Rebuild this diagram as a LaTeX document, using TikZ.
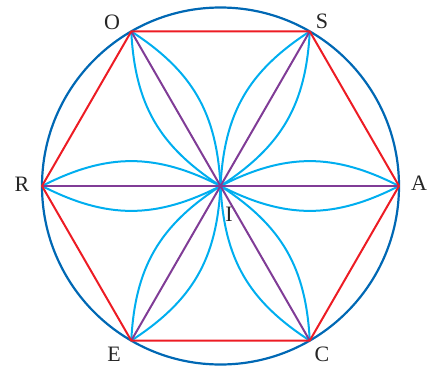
\documentclass[tikz,border=0pt]{standalone}
\usepackage{fontspec}
\setmainfont{Liberation Serif}
\definecolor{circblue}{RGB}{0,104,180}
\definecolor{hexred}{RGB}{237,28,36}
\definecolor{diapurple}{RGB}{128,60,150}
\definecolor{petalcyan}{RGB}{0,174,239}
\newcommand{\lblsize}{\fontsize{22pt}{22pt}\selectfont}
\tikzset{
  circ/.style={draw=circblue, line width=2.2pt},
  hex/.style={draw=hexred, line width=2pt, line join=round},
  dia/.style={draw=diapurple, line width=2pt},
  petal/.style={draw=petalcyan, line width=2pt},
  lbl/.style={font=\lblsize, text=black!85, inner sep=0pt}
}
\begin{document}
\begin{tikzpicture}[x=1pt,y=-1pt]
\useasboundingbox (0,0) rectangle (433,367);
\coordinate (I) at (220.5,186);
\coordinate (A) at (399,186);
\coordinate (S) at (309.75,31.4);
\coordinate (O) at (131.25,31.4);
\coordinate (R) at (42,186);
\coordinate (E) at (131.25,340.6);
\coordinate (C) at (309.75,340.6);
\draw[circ] (I) circle[radius=178.5];
\foreach \v in {A,S,O,R,E,C}{
  \draw[petal] (I) to[bend left=27, looseness=1.05] (\v);
  \draw[petal] (I) to[bend right=27, looseness=1.05] (\v);
}
\draw[dia] (R) -- (A);
\draw[dia] (O) -- (C);
\draw[dia] (S) -- (E);
\draw[hex] (A) -- (S) -- (O) -- (R) -- (E) -- (C) -- cycle;
\node[lbl] (lO) at (112,22) {O};
\node[lbl] (lS) at (322,21) {S};
\node[lbl] (lR) at (22,184) {R};
\node[lbl] (lA) at (419,183) {A};
\node[lbl] (lE) at (114,354) {E};
\node[lbl] (lC) at (322,354) {C};
\node[lbl] (lI) at (229,214) {I};
\end{tikzpicture}
\end{document}
